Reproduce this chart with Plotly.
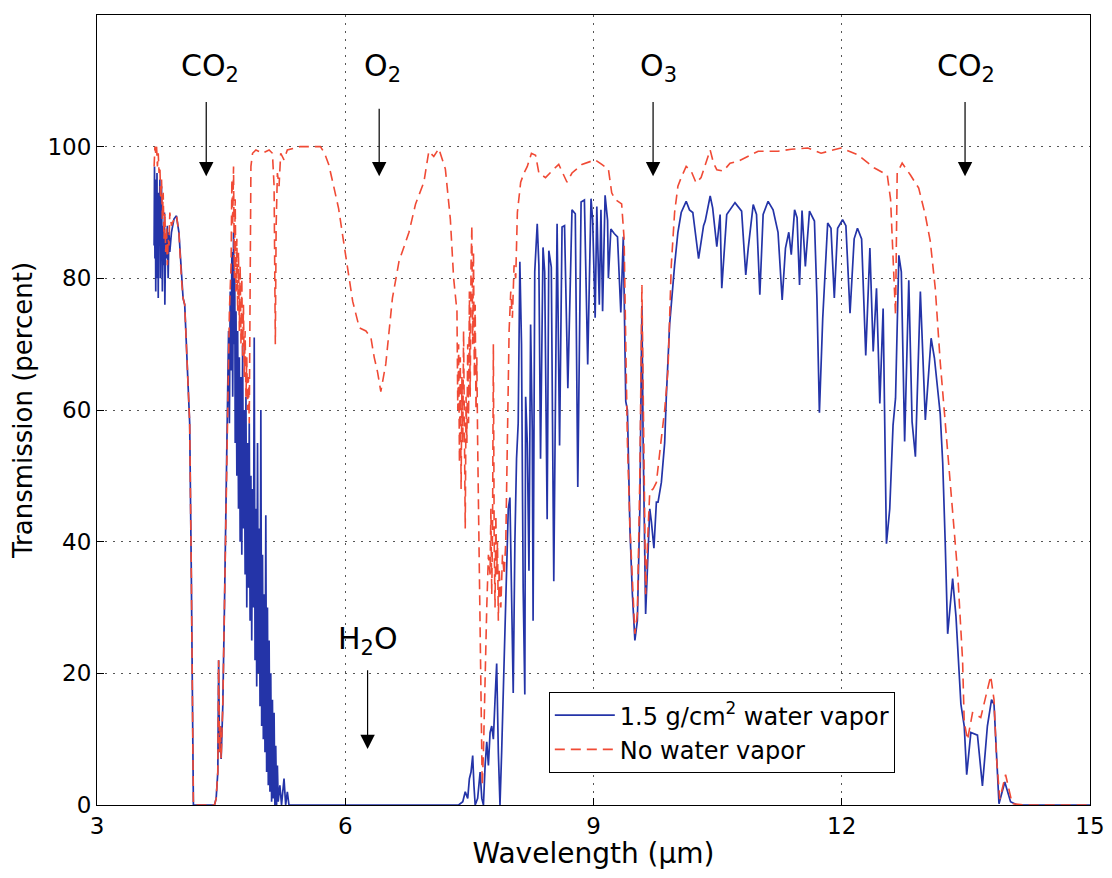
import plotly.graph_objects as go

# wavelength (um) / transmission (percent), 1.5 g/cm2 water vapor
wet_wl = [3.69, 3.695, 3.70, 3.705, 3.71, 3.715, 3.72, 3.725, 3.73, 3.735, 3.74, 3.745,
          3.75, 3.76, 3.765, 3.77, 3.775, 3.78, 3.79, 3.80, 3.81, 3.815, 3.82, 3.83,
          3.84, 3.85, 3.86, 3.87, 3.88, 3.90, 3.93, 3.96, 3.99, 4.02, 4.04, 4.06,
          4.08, 4.10, 4.12, 4.14, 4.155, 4.165,
          4.42, 4.44, 4.46, 4.47, 4.48, 4.49, 4.50, 4.52, 4.54, 4.56,
          4.58, 4.59, 4.60, 4.61, 4.62, 4.63, 4.64, 4.65, 4.66, 4.665, 4.67, 4.68,
          4.69, 4.70, 4.71, 4.72, 4.73, 4.74, 4.75, 4.76, 4.77, 4.78, 4.79, 4.80,
          4.81, 4.82, 4.83, 4.84, 4.85, 4.86, 4.87, 4.88, 4.89, 4.90, 4.91, 4.92,
          4.93, 4.94, 4.95, 4.96, 4.97, 4.98, 4.99, 5.00, 5.01, 5.02, 5.03, 5.04,
          5.05, 5.06, 5.07, 5.08, 5.09, 5.10, 5.11, 5.12, 5.13, 5.14, 5.15, 5.16,
          5.17, 5.18, 5.19, 5.21, 5.23, 5.26, 5.28, 5.30, 5.32,
          7.37, 7.42, 7.45, 7.48, 7.50, 7.52, 7.54, 7.555, 7.57, 7.60, 7.63, 7.65,
          7.67, 7.69, 7.71, 7.73, 7.75, 7.77, 7.79, 7.81, 7.83, 7.85, 7.87, 7.89,
          7.91, 7.93, 7.95, 7.97, 7.99, 8.01, 8.03, 8.05, 8.07, 8.09, 8.11, 8.13,
          8.15, 8.17, 8.18, 8.20, 8.22, 8.24, 8.26, 8.27, 8.29, 8.32, 8.34, 8.36,
          8.39, 8.41, 8.44, 8.46, 8.49, 8.52, 8.56, 8.59, 8.62, 8.65, 8.69, 8.74,
          8.78, 8.81, 8.85, 8.89, 8.93, 8.97, 8.99, 9.02, 9.04, 9.07, 9.09, 9.11,
          9.14, 9.17, 9.18, 9.21, 9.25, 9.29, 9.33, 9.36, 9.39, 9.41, 9.44, 9.47,
          9.50, 9.53, 9.56, 9.585, 9.60, 9.63, 9.66, 9.68, 9.70, 9.73, 9.76, 9.78,
          9.82, 9.86, 9.88, 9.92, 9.98, 10.02, 10.06, 10.12, 10.16, 10.20, 10.27, 10.33,
          10.35, 10.41, 10.44, 10.49, 10.53, 10.55, 10.61, 10.71, 10.79, 10.84, 10.87, 10.93,
          10.97, 11.01, 11.05, 11.11, 11.17, 11.23, 11.28, 11.32, 11.36, 11.39, 11.43, 11.46,
          11.49, 11.52, 11.56, 11.61, 11.67, 11.70, 11.73, 11.77, 11.83, 11.87, 11.91, 11.95,
          12.01, 12.05, 12.10, 12.15, 12.19, 12.24, 12.29, 12.34, 12.38, 12.42, 12.46, 12.50,
          12.54, 12.58, 12.62, 12.65, 12.69, 12.72, 12.76, 12.81, 12.85, 12.89, 12.95, 13.01,
          13.08, 13.12, 13.19, 13.22, 13.25, 13.28, 13.34, 13.38, 13.44, 13.48, 13.51, 13.56,
          13.64, 13.70, 13.76, 13.81, 13.84, 13.90, 13.97, 14.04, 14.12, 15.0]
wet_tr = [85, 97, 83, 95, 78, 94, 86, 96, 80, 92, 77, 93,
          85, 95, 80, 90, 83, 94, 78, 88, 82, 90, 76, 86,
          83, 88, 80, 87, 84, 87, 89, 89.5, 87, 80, 77, 76,
          70, 62, 58, 35, 10, 0,
          0, 1, 5, 22, 8, 12, 7, 15, 30, 45,
          60, 72, 58, 78, 66, 84, 62, 87, 70, 80, 55, 75,
          50, 72, 45, 68, 40, 65, 38, 70, 42, 60, 35, 62,
          30, 55, 33, 58, 28, 50, 25, 48, 30, 71, 22, 45,
          18, 55, 20, 42, 15, 60, 12, 38, 10, 32, 8, 44,
          5, 30, 3, 25, 2, 20, 0.5, 16, 1, 14, 0, 9,
          0, 6, 0.5, 3, 0, 4, 0, 2, 0,
          0, 0.5, 2, 1, 4, 5, 7.5, 3, 0, 1, 5, 1,
          0, 6, 9.6, 6, 11, 12, 10, 16, 21.5, 8, 0, 8,
          17, 30, 36.8, 45, 46.7, 30, 17, 40, 52.6, 58, 82.5, 70,
          33, 16.8, 62, 55, 35.6, 73, 57, 28, 81, 88.3, 82, 52.6,
          84.7, 81, 43.4, 84.2, 81.7, 34, 88.3, 54.6, 87.8, 88, 63.3, 90.4,
          89.8, 48.3, 91.6, 91.9, 66.9, 92.1, 88.8, 74, 90.9, 76, 90.4, 75,
          92.6, 88.8, 80, 87.5, 86.8, 86.3, 74.8, 86.3, 61.3, 60, 42, 32,
          25, 28, 45, 75.8, 55, 29, 40, 45, 43, 39, 46, 46,
          49, 55, 62, 73, 82, 87, 90, 91.7, 90.4, 90, 83, 88,
          88.7, 92.5, 90.7, 84.8, 89.7, 78.5, 89.7, 91.5, 90.2, 80.5, 84.6, 91.2,
          89.7, 77.5, 89.7, 91.7, 90.4, 87, 76.7, 84.6, 87, 83.6, 90.4, 89.2,
          79, 90.3, 81.8, 90.2, 88.7, 77, 59.6, 73.9, 88.4, 87.6, 77, 87.6,
          88.9, 88, 74.7, 86, 87.6, 86, 68.3, 84.6, 68.9, 78.5, 61, 75.4,
          39.7, 45, 57.7, 61.8, 83.5, 81, 55.2, 79.7, 58.2, 52.9, 78, 58.5,
          70.9, 67.9, 59.4, 52, 40, 26, 34.4, 28.7, 15.3, 12, 4.6, 11,
          10.6, 2.9, 12, 16, 15.3, 0.2, 3.5, 0.5, 0, 0]

# wavelength (um) / transmission (percent), no water vapor
dry_wl = [3.69, 3.70, 3.71, 3.72, 3.73, 3.74, 3.75, 3.76, 3.77, 3.78, 3.79, 3.80,
          3.81, 3.82, 3.83, 3.84, 3.85, 3.86, 3.87, 3.88, 3.90, 3.93, 3.96, 3.99,
          4.02, 4.04, 4.06, 4.08, 4.10, 4.12, 4.14, 4.155, 4.165,
          4.42, 4.44, 4.46, 4.47, 4.48, 4.49, 4.50, 4.52, 4.54, 4.56,
          4.58, 4.60, 4.62, 4.63, 4.64, 4.65, 4.66, 4.67, 4.68, 4.69, 4.70, 4.71,
          4.72, 4.73, 4.74, 4.75, 4.76, 4.77, 4.78, 4.79, 4.80, 4.81, 4.82, 4.83,
          4.84, 4.85, 4.86, 4.88, 4.92, 5.00, 5.08, 5.12, 5.14, 5.155, 5.165, 5.18,
          5.20, 5.22, 5.26, 5.30, 5.45, 5.60, 5.70, 5.75,
          5.80, 5.86, 5.92, 6.00, 6.09, 6.17, 6.25, 6.31, 6.35, 6.39, 6.43, 6.49,
          6.57, 6.65, 6.77, 6.85, 6.95, 7.01, 7.07, 7.13, 7.21, 7.27, 7.31,
          7.35, 7.36, 7.37, 7.38, 7.39, 7.40, 7.41, 7.42, 7.43, 7.44, 7.45, 7.46,
          7.47, 7.48, 7.49, 7.50, 7.51, 7.52, 7.53, 7.54, 7.55, 7.56, 7.57, 7.58,
          7.59, 7.60, 7.61, 7.62, 7.64, 7.655, 7.67, 7.69, 7.71, 7.73, 7.75, 7.76,
          7.77, 7.78, 7.79, 7.80, 7.81, 7.82, 7.83, 7.84, 7.85, 7.86, 7.88, 7.90,
          7.92, 7.94, 7.96, 7.98, 8.00, 8.02, 8.04, 8.06, 8.08, 8.10, 8.12, 8.16,
          8.20, 8.25, 8.30, 8.34, 8.42, 8.52, 8.58, 8.68, 8.74, 8.86, 9.02, 9.10,
          9.18, 9.22, 9.26, 9.34, 9.37, 9.39, 9.41, 9.44, 9.47, 9.50, 9.53, 9.56,
          9.585, 9.60, 9.63, 9.66, 9.68, 9.72, 9.76, 9.82, 9.86, 9.90, 9.94, 9.98,
          10.02, 10.06, 10.12, 10.18, 10.24, 10.30, 10.36, 10.41, 10.45, 10.49, 10.57, 10.65,
          10.75, 10.85, 10.99, 11.23, 11.39, 11.59, 11.75, 11.99, 12.19, 12.39, 12.55, 12.59,
          12.62, 12.65, 12.67, 12.73, 12.83, 12.93, 13.01, 13.07, 13.13, 13.19, 13.25, 13.32,
          13.40, 13.46, 13.48, 13.52, 13.58, 13.68, 13.74, 13.80, 13.84, 13.87, 13.91, 13.98,
          14.06, 14.2, 15.0]
dry_tr = [97, 100, 99, 100, 97, 99, 96, 97, 92, 95, 89, 93,
          86, 90, 84, 88, 82, 86, 85, 90, 88, 89, 89.5, 87,
          80, 77, 76, 70, 62, 58, 35, 10, 0,
          0, 1, 5, 22, 8, 12, 7, 15, 30, 45,
          60, 75, 82, 95, 88, 97, 80, 92, 78, 86, 75, 84,
          72, 82, 70, 80, 68, 76, 65, 72, 62, 68, 60, 65,
          58, 80, 97, 99, 99.5, 99, 99.5, 99, 94, 70, 88, 96,
          94, 99, 98, 99.5, 100, 100, 100, 99,
          97.3, 94, 90.6, 83.9, 76.5, 72.5, 72, 71, 68, 65.8, 62.8, 67,
          77, 82.6, 87, 91.3, 94.6, 99.3, 98.5, 99.7, 96.6, 89, 80,
          75, 60, 70, 52, 68, 48, 65, 55, 72, 50, 42, 62,
          55, 70, 58, 78, 62, 82, 88, 70, 84, 65, 76, 60,
          68, 55, 45, 30, 12, 3, 8, 20, 30, 38, 35, 45,
          32, 42, 70, 40, 30, 44, 35, 40, 28, 36, 30, 38,
          35, 40, 60, 72, 78, 74, 82, 80, 90, 92, 94.6, 96,
          97, 99, 98.7, 96, 95.3, 96.6, 97.3, 94.6, 96, 97.3, 98, 97.3,
          96.6, 93, 92, 91.3, 86, 70, 55, 42.4, 33, 26, 29, 50,
          79, 60, 32, 42, 47.6, 48, 49, 55.7, 60, 66, 82, 90,
          94, 95.3, 97, 96.3, 94.5, 95.3, 97.5, 99.5, 97.5, 96.5, 96.3, 97.5,
          97.8, 98.4, 99.3, 99.3, 99.6, 99.8, 99, 99.8, 98.8, 96.8, 95.7, 92,
          82, 74.4, 96, 97.5, 95.7, 93.7, 89.6, 85.6, 78.5, 67.3, 58.2, 47.6,
          35.4, 22, 12.6, 9.9, 14, 13.3, 16.6, 19.6, 16, 7.2, 0.9, 4.6,
          0.2, 0, 0]

# absorber labels: text, label position, arrow tail, arrow head
gas_labels = ["CO<sub>2</sub>", "O<sub>2</sub>", "O<sub>3</sub>", "CO<sub>2</sub>", "H<sub>2</sub>O"]
label_x = [4.36, 6.45, 9.78, 13.5, 6.27]
label_y = [112, 112, 112, 112, 25]
arrow_x = [4.32, 6.41, 9.72, 13.49, 6.27]
arrow_tail = [107, 106, 107, 107, 20.7]
arrow_head = [95.5, 95.5, 95.5, 95.5, 8.5]

fig = go.Figure()
fig.add_trace(go.Scatter(x=wet_wl, y=wet_tr, mode="lines", name="1.5 g/cm<sup>2</sup> water vapor",
                         line=dict(color="#2434a8", width=1.7)))
fig.add_trace(go.Scatter(x=dry_wl, y=dry_tr, mode="lines", name="No water vapor",
                         line=dict(color="#f04a35", width=1.6, dash="10px,6px")))

for i in range(len(gas_labels)):
    # arrow
    fig.add_annotation(x=arrow_x[i], y=arrow_head[i], ax=arrow_x[i], ay=arrow_tail[i],
                       xref="x", yref="y", axref="x", ayref="y", text="", showarrow=True,
                       arrowhead=2, arrowsize=2.4, arrowwidth=1.2, arrowcolor="black")
    # label
    fig.add_annotation(x=label_x[i], y=label_y[i], xref="x", yref="y", text=gas_labels[i],
                       showarrow=False, font=dict(family="DejaVu Sans", size=30, color="black"))

fig.update_layout(
    width=1104, height=862,
    margin=dict(l=89, r=22, t=7, b=65),
    paper_bgcolor="white", plot_bgcolor="white",
    font=dict(family="DejaVu Sans, Liberation Sans, sans-serif", size=23, color="black"),
    legend=dict(x=0.455, y=0.143, xanchor="left", yanchor="top",
                bordercolor="black", borderwidth=1, bgcolor="white",
                font=dict(family="DejaVu Sans", size=24), itemwidth=60, tracegroupgap=0),
)
fig.update_xaxes(range=[3, 15], tickvals=[3, 6, 9, 12, 15], ticklabeloverflow="allow",
                 automargin=False,
                 tickfont=dict(family="DejaVu Sans", size=23),
                 title=dict(text="Wavelength (µm)", standoff=10,
                            font=dict(family="DejaVu Sans", size=28)),
                 showline=True, linecolor="black", linewidth=1, mirror=True,
                 ticks="inside", ticklen=7, tickcolor="black",
                 showgrid=True, gridcolor="#555", griddash="2px,6px", gridwidth=1, zeroline=False)
fig.update_yaxes(range=[0, 120], tickvals=[0, 20, 40, 60, 80, 100],
                 automargin=False,
                 tickfont=dict(family="DejaVu Sans", size=23),
                 title=dict(text="Transmission (percent)", standoff=8,
                            font=dict(family="DejaVu Sans", size=26)),
                 showline=True, linecolor="black", linewidth=1, mirror=True,
                 ticks="inside", ticklen=7, tickcolor="black",
                 showgrid=True, gridcolor="#555", griddash="2px,6px", gridwidth=1, zeroline=False)

fig.write_html("out.html")
